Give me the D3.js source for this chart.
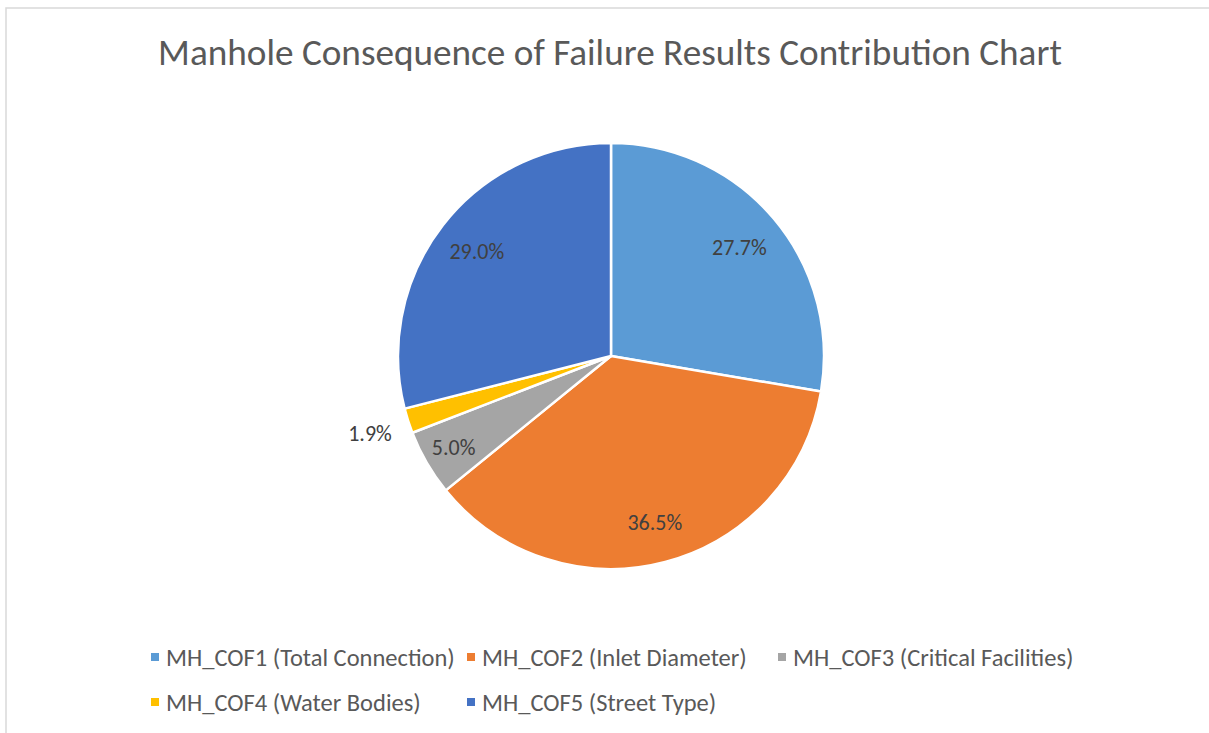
<!DOCTYPE html>
<html>
<head>
<meta charset="utf-8">
<script src="https://cdn.jsdelivr.net/npm/d3@7/dist/d3.min.js"></script>
<style>
  html, body { margin: 0; padding: 0; background: #fff; }
  svg { display: block; }
  text { font-family: Calibri, Carlito, Lato, "Open Sans", sans-serif; }
</style>
</head>
<body>
<svg id="chart" width="1209" height="733"></svg>
<script>
// Contribution of each consequence-of-failure factor (percent)
const categories = [
  "MH_COF1 (Total Connection)",
  "MH_COF2 (Inlet Diameter)",
  "MH_COF3 (Critical Facilities)",
  "MH_COF4 (Water Bodies)",
  "MH_COF5 (Street Type)"
];
const values = [27.7, 36.5, 5.0, 1.9, 29.0];
const labels = ["27.7%", "36.5%", "5.0%", "1.9%", "29.0%"];
const colors = ["#5B9BD5", "#ED7D31", "#A5A5A5", "#FFC000", "#4472C4"];
const title = "Manhole Consequence of Failure Results Contribution Chart";

const W = 1209, H = 733;
const svg = d3.select("#chart");

// chart area frame
svg.append("rect")
  .attr("x", 6).attr("y", 8)
  .attr("width", W + 10).attr("height", H + 10)
  .attr("fill", "#fff")
  .attr("stroke", "#d9d9d9").attr("stroke-width", 1.5);

// fit text to a target width by adjusting the font size
function fitText(sel, width) {
  const w = sel.node().getComputedTextLength();
  const fs = parseFloat(sel.attr("font-size"));
  sel.attr("font-size", fs * width / w);
}

const t = svg.append("text")
  .attr("x", 610).attr("y", 65)
  .attr("text-anchor", "middle")
  .attr("font-size", 32)
  .attr("fill", "#595959")
  .text(title);
fitText(t, 904);

const cx = 611, cy = 356, r = 213;
const g = svg.append("g").attr("transform", `translate(${cx},${cy})`);

const pie = d3.pie().sort(null).value(d => d);
const arcs = pie(values);
const arc = d3.arc().innerRadius(0).outerRadius(r);

g.selectAll("path.slice")
  .data(arcs)
  .enter().append("path")
  .attr("class", "slice")
  .attr("d", arc)
  .attr("fill", (d, i) => colors[i])
  .attr("stroke", "#fff")
  .attr("stroke-width", 2.5)
  .attr("stroke-linejoin", "round");

// data labels: inside for large slices, outside for the smallest one
const labelRadius = [168, 172, 182, 253, 170];
g.selectAll("text.lbl")
  .data(arcs)
  .enter().append("text")
  .attr("class", "lbl")
  .attr("transform", (d, i) => {
    const a = (d.startAngle + d.endAngle) / 2;
    const rr = labelRadius[i];
    return `translate(${Math.sin(a) * rr},${-Math.cos(a) * rr})`;
  })
  .attr("text-anchor", "middle")
  .attr("dy", "0.35em")
  .attr("font-size", 22)
  .attr("fill", "#404040")
  .text((d, i) => labels[i]);

// legend
const legendPos = [
  [155, 657], [471, 657], [782, 657],
  [155, 702], [471, 702]
];
const leg = svg.append("g");
categories.forEach((c, i) => {
  const [x, y] = legendPos[i];
  leg.append("rect")
    .attr("x", x - 4).attr("y", y - 4)
    .attr("width", 8).attr("height", 8)
    .attr("fill", colors[i]);
  leg.append("text")
    .attr("class", "legtxt")
    .attr("x", x + 11).attr("y", y)
    .attr("dy", "0.35em")
    .attr("font-size", 20)
    .attr("fill", "#595959")
    .text(c);
});
// scale legend font to the measured span of the first entry
const first = leg.select("text.legtxt");
const w0 = first.node().getComputedTextLength();
const fsLeg = 20 * 289 / w0;
leg.selectAll("text.legtxt").attr("font-size", fsLeg);
</script>
</body>
</html>
